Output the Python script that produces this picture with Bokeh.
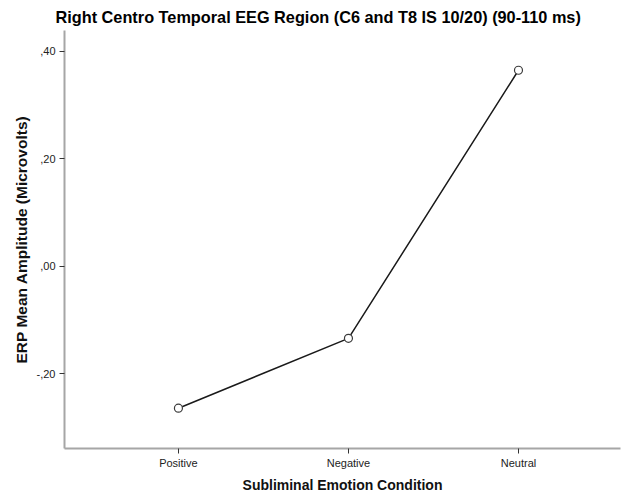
from bokeh.plotting import figure
from bokeh.models import FixedTicker, Range1d, Title
from bokeh.embed import file_html
from bokeh.resources import INLINE

# Mean ERP amplitude per subliminal emotion condition
conditions = ["Positive", "Negative", "Neutral"]
mean_amplitude = [-0.264, -0.134, 0.365]
y_ticks = [-0.2, 0.0, 0.2, 0.4]
y_tick_labels = ["-,20", ",00", ",20", ",40"]

xs = list(range(len(conditions)))

p = figure(
    width=621, height=495,
    output_backend="svg", toolbar_location=None,
    x_range=Range1d(-0.67, 2.6), y_range=Range1d(-0.339, 0.439),
    min_border_left=64, min_border_right=1, min_border_top=30, min_border_bottom=46,
)
p.title = None
title = Title(
    text="Right Centro Temporal EEG Region (C6 and T8 IS 10/20) (90-110 ms)",
    align="left", offset=-9,
    text_font="Liberation Sans", text_font_size="16.3px", text_font_style="bold",
    text_color="#000000",
)
p.add_layout(title, "above")

p.outline_line_color = None
p.xgrid.visible = False
p.ygrid.visible = False
p.background_fill_color = "white"
p.border_fill_color = "white"

# x axis: categories
p.xaxis.ticker = FixedTicker(ticks=xs)
p.xaxis.major_label_overrides = {i: c for i, c in zip(xs, conditions)}
p.xaxis.axis_label = "Subliminal Emotion Condition"

# y axis: comma decimal labels
p.yaxis.ticker = FixedTicker(ticks=y_ticks)
p.yaxis.major_label_overrides = {t: l for t, l in zip(y_ticks, y_tick_labels)}
p.yaxis.axis_label = "ERP Mean Amplitude (Microvolts)"

for ax in (p.xaxis[0], p.yaxis[0]):
    ax.axis_line_color = "#a6a6a6"
    ax.axis_line_width = 2
    ax.major_tick_line_color = "#333333"
    ax.major_tick_line_width = 1
    ax.major_tick_out = 5
    ax.major_tick_in = 0
    ax.minor_tick_line_color = None
    ax.major_label_text_font = "Liberation Sans"
    ax.major_label_text_font_size = "11px"
    ax.major_label_text_color = "#222222"
    ax.axis_label_text_font = "Liberation Sans"
    ax.axis_label_text_font_style = "bold"
    ax.axis_label_text_color = "#111111"

p.xaxis.axis_label_text_font_size = "14px"
p.yaxis.axis_label_text_font_size = "15.5px"
p.xaxis.major_label_standoff = 3
p.xaxis.axis_label_standoff = 5
p.yaxis.major_label_standoff = 4
p.yaxis.axis_label_standoff = 4

p.line(xs, mean_amplitude, line_color="#1a1a1a", line_width=1.5)
p.scatter(xs, mean_amplitude, marker="circle", size=8, fill_color="white",
          line_color="#3a3a3a", line_width=1.2)

open("out.html", "w").write(file_html(p, INLINE))
